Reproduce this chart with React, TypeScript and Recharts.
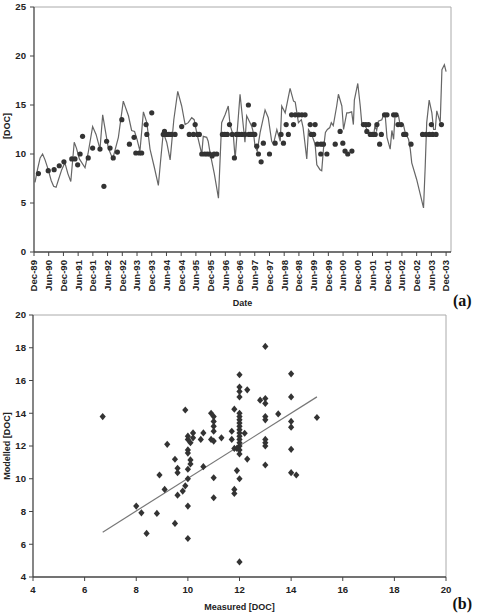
import { ComposedChart, Line, Scatter, ScatterChart, XAxis, YAxis, ReferenceLine } from 'recharts';

// time axis: months since Dec-89
const dateTicks = [0, 6, 12, 18, 24, 30, 36, 42, 48, 54, 60, 66, 72, 78, 84, 90, 96, 102, 108, 114, 120, 126, 132, 138, 144, 150, 156, 162, 168];
const dateLabels = ['Dec-89', 'Jun-90', 'Dec-90', 'Jun-91', 'Dec-91', 'Jun-92', 'Dec-92', 'Jun-93', 'Dec-93', 'Jun-94', 'Dec-94', 'Jun-95', 'Dec-95', 'Jun-96', 'Dec-96', 'Jun-97', 'Dec-97', 'Jun-98', 'Dec-98', 'Jun-99', 'Dec-99', 'Jun-00', 'Dec-00', 'Jun-01', 'Dec-01', 'Jun-02', 'Dec-02', 'Jun-03', 'Dec-03'];
const docTicks = [0, 5, 10, 15, 20, 25];
const scatterTicks = [4, 6, 8, 10, 12, 14, 16, 18, 20];

// modelled DOC [month, value]
const modelled: number[][] = [
  [0.4, 7.1], [1.5, 8.5], [2.5, 9.6], [3.5, 10.0], [4.5, 9.4], [5.8, 8.4], [7, 7.3], [8, 6.7], [9, 6.6], [10, 7.4],
  [11.3, 8.4], [12.6, 9.1], [13.8, 8.0], [15, 7.2], [16.4, 11.2], [17.3, 10.6], [18.5, 9.5], [20.8, 8.6], [22, 10.0], [23.9, 12.8],
  [25.3, 12.0], [26.9, 10.5], [28, 14.0], [30.3, 10.6], [32.1, 9.5], [34.4, 11.7], [36.4, 15.4], [38.5, 13.9], [39.8, 12.4], [41, 12.3],
  [42, 11.5], [43.2, 10.3], [44.6, 14.3], [46, 13.2], [47.3, 10.5], [49, 8.7], [50.7, 6.8], [51.5, 9.0], [52.7, 12.2], [54.1, 11.2],
  [55.5, 9.4], [57, 13.5], [58.6, 16.4], [60.2, 14.9], [61.6, 13.0], [62.9, 13.2], [64.3, 13.7], [65.3, 13.5], [66.3, 12.2], [68.4, 10.0],
  [69, 11.8], [70.4, 11.7], [71, 11.3], [71.8, 10.1], [73.5, 8.0], [75.2, 5.5], [76.5, 13.2], [77.9, 14.0], [79.2, 14.9], [79.9, 13.0],
  [81.3, 11.8], [82, 9.5], [84, 16.1], [86, 11.2], [86.7, 13.9], [88.8, 12.8], [89.5, 12.1], [90.1, 10.8], [91, 10.3], [92.2, 12.2],
  [94.2, 14.5], [95.5, 13.7], [96.9, 11.3], [97.6, 11.0], [99, 12.5], [100.4, 11.3], [101, 14.9], [102.4, 14.2], [104.4, 16.7], [105.8, 15.4],
  [106.5, 15.3], [107.8, 13.2], [109, 13.5], [109.7, 12.7], [111.2, 9.5], [111.9, 12.5], [113.2, 12.0], [114.6, 11.0], [115.3, 8.9], [116.6, 8.4],
  [117.3, 8.3], [118, 10.5], [118.8, 12.2], [119.6, 12.5], [120.6, 12.7], [121.2, 13.2], [122, 12.9], [123.4, 14.9], [124.1, 16.1], [125.5, 14.9],
  [126.2, 12.5], [127.5, 14.2], [128.2, 14.2], [129.5, 14.3], [130.2, 13.0], [130.6, 15.5], [132, 17.2], [133, 14.9], [133.6, 13.2], [135, 12.9],
  [135.7, 12.5], [137, 12.0], [138.4, 11.8], [139, 12.9], [139.7, 12.4], [140.4, 13.35], [141.8, 13.5], [142.5, 14.0], [143.2, 13.9], [143.9, 11.7],
  [145.2, 10.5], [145.9, 12.4], [146.6, 11.5], [147.2, 14.0], [148.6, 13.9], [149.3, 12.9], [150.6, 13.0], [151.3, 12.2], [152.7, 11.5], [153.4, 10.5],
  [154, 9.1], [156, 7.4], [158.8, 4.5], [159.5, 8.8], [160.1, 13.2], [161.1, 15.5], [162.2, 14.2], [162.9, 12.5], [163.6, 12.5], [164.2, 14.4],
  [165.6, 13.2], [166.3, 18.6], [167.3, 19.1], [168, 18.4],
];

// measured DOC [month, value]
const measured: number[][] = [
  [1.8, 8.0], [5.8, 8.3], [8.2, 8.4], [10.3, 8.8], [12.2, 9.2], [15.4, 9.5], [16.7, 9.5], [17.8, 8.9], [18.8, 10.0], [19.8, 11.8],
  [22.1, 9.6], [23.9, 10.6], [26.9, 10.5], [28.5, 6.7], [29.6, 11.3], [31, 10.6], [32.3, 9.6], [34, 10.2], [35.8, 13.5], [38.9, 11.0],
  [40.8, 11.7], [41.5, 10.1], [42.9, 10.1], [43.9, 10.1], [45.7, 13.0], [46, 12.0], [48, 14.2], [52.7, 12.0], [53.2, 12.3], [54, 12.0],
  [55, 12.0], [56, 12.0], [57.5, 12.0], [60.2, 12.8], [63.3, 12.0], [65, 12.0], [65.7, 13.0], [66.6, 12.0], [67.4, 12.0], [68.4, 10.0],
  [69.6, 10.0], [70.6, 10.0], [71.6, 10.0], [72.6, 9.8], [73.4, 10.0], [74.5, 10.0], [76.8, 12.0], [77.8, 12.0], [78.8, 12.0], [79.7, 13.0],
  [80.8, 12.0], [81.7, 9.6], [82.5, 12.0], [83.5, 12.0], [84.7, 12.0], [86, 12.0], [87.4, 15.0], [87.6, 12.0], [88.4, 12.0], [89.2, 12.0],
  [89.7, 13.0], [90, 12.0], [90.8, 10.8], [91.5, 10.0], [92.6, 9.2], [93.5, 11.1], [96, 10.0], [98.3, 11.1], [100.7, 12.0], [101.7, 11.1],
  [102.8, 13.0], [103.7, 12.0], [105, 14.0], [105.8, 13.0], [106.5, 14.0], [107.9, 14.0], [109.2, 14.0], [110.5, 14.0], [112.6, 13.0], [113, 12.0],
  [114, 12.0], [114.6, 13.0], [115.5, 11.0], [116.9, 10.0], [117, 11.0], [118, 11.0], [119.4, 10.0], [122.8, 11.0], [124.8, 12.3], [125.9, 11.1],
  [126.8, 10.3], [127.9, 10.0], [129.6, 10.3], [134.3, 13.0], [135.3, 13.0], [135.7, 12.3], [136.4, 13.0], [137.1, 12.0], [138, 12.0], [139.1, 12.0],
  [139.8, 13.0], [140.9, 11.0], [141.6, 12.0], [142.9, 14.0], [143.9, 14.0], [146.6, 14.0], [147.6, 14.0], [148.4, 13.0], [149.7, 13.0], [150.7, 12.0],
  [151.6, 12.0], [153.7, 11.0], [158.4, 12.0], [159.8, 12.0], [161.2, 12.0], [162, 13.0], [162.5, 12.0], [163.9, 12.0], [166.1, 13.0],
];

// measured vs modelled [measured, modelled]
const pairs: number[][] = [
  [6.7, 13.8], [8.0, 8.33], [8.2, 7.92], [8.4, 6.66], [8.8, 7.88], [8.9, 10.23], [9.1, 9.35], [9.2, 12.1], [9.5, 11.19], [9.5, 7.27],
  [9.6, 10.64], [9.6, 10.37], [9.6, 9.0], [9.8, 9.25], [9.9, 9.57], [9.9, 14.2], [10.0, 12.6], [10.0, 12.4], [10.0, 11.76], [10.0, 11.57],
  [10.0, 10.58], [10.0, 10.0], [10.0, 8.33], [10.0, 6.35], [10.1, 12.2], [10.1, 11.15], [10.1, 10.9], [10.2, 12.8], [10.2, 12.5], [10.5, 12.4],
  [10.6, 12.8], [10.6, 10.74], [10.9, 14.0], [11.0, 13.8], [11.0, 13.5], [11.0, 13.2], [11.0, 12.9], [10.9, 12.4], [11.0, 12.3], [11.0, 10.06],
  [11.0, 8.84], [11.3, 12.5], [11.7, 12.9], [11.8, 14.25], [11.7, 12.4], [11.8, 11.85], [11.9, 11.85], [11.8, 9.35], [11.8, 9.1], [11.9, 10.5],
  [12.0, 10.0], [12.0, 4.92], [12.0, 16.35], [12.0, 15.6], [12.0, 15.33], [12.0, 15.0], [12.0, 14.0], [12.0, 13.8], [12.0, 13.6], [12.0, 13.4],
  [12.0, 13.2], [12.0, 13.0], [12.0, 12.8], [12.0, 12.6], [12.0, 12.4], [12.0, 12.2], [12.0, 12.0], [12.0, 11.76], [12.0, 11.51], [12.2, 12.78],
  [12.3, 15.43], [12.3, 11.2], [12.8, 14.8], [13.0, 18.08], [13.0, 14.9], [13.0, 14.6], [13.0, 13.8], [13.0, 13.6], [13.0, 12.4], [13.0, 12.2],
  [13.0, 12.0], [13.0, 10.84], [13.5, 13.96], [14.0, 16.41], [14.0, 15.0], [14.0, 13.5], [14.0, 13.15], [14.0, 11.8], [14.0, 10.37], [14.2, 10.23],
  [15.0, 13.74],
];

// fitted trend line end points [measured, modelled]
const trend: number[][] = [[6.7, 6.74], [15.0, 15.0]];

const font = '"Liberation Sans", Arial, sans-serif';
const tickStyle = { fontSize: 9.6, fontWeight: 'bold', fill: '#222', fontFamily: font };
const axisLine = { stroke: '#444', strokeWidth: 1.3 };

const lineData = modelled.map(([m, v]) => ({ m, v }));
const dotData = measured.map(([m, v]) => ({ m, v }));
const pairData = pairs.map(([x, y]) => ({ x, y }));

function DateTick(props: any) {
  const { x, y, payload } = props;
  const label = dateLabels[dateTicks.indexOf(payload.value)];
  return (
    <text transform={`translate(${x},${y}) rotate(-90)`} textAnchor='end' dy='0.35em' {...tickStyle}>
      {label}
    </text>
  );
}

function Diamond(props: any) {
  const { cx, cy } = props;
  return <path d={`M${cx},${cy - 3.6}L${cx + 3.1},${cy}L${cx},${cy + 3.6}L${cx - 3.1},${cy}Z`} fill='#333' />;
}

export default function App() {
  return (
    <div style={{ position: 'absolute', left: 0, top: 0, width: 477, height: 613, background: '#fff' }}>
      <div style={{ position: 'absolute', left: 0, top: 0 }}>
        <ComposedChart width={477} height={312} margin={{ top: 7, right: 26, bottom: 4, left: 0 }}>
          <XAxis
            type='number'
            dataKey='m'
            domain={[0, 170]}
            ticks={dateTicks}
            interval={0}
            tick={<DateTick />}
            tickSize={4}
            tickMargin={4}
            height={56}
            axisLine={axisLine}
            tickLine={{ stroke: '#444' }}
          />
          <YAxis
            type='number'
            domain={[0, 25]}
            ticks={docTicks}
            width={34}
            tick={tickStyle}
            tickSize={4}
            tickMargin={4}
            axisLine={axisLine}
            tickLine={{ stroke: '#444' }}
          />
          <ReferenceLine y={25} stroke='#aaa' />
          <ReferenceLine x={170} stroke='#aaa' />
          <Line data={lineData} dataKey='v' type='linear' stroke='#666' strokeWidth={1.2} dot={false} isAnimationActive={false} />
          <Scatter data={dotData} dataKey='v' fill='#333' shape={(p: any) => <circle cx={p.cx} cy={p.cy} r={2.6} fill='#333' />} isAnimationActive={false} />
        </ComposedChart>
      </div>
      <div style={{ position: 'absolute', left: 0, top: 300 }}>
        <ScatterChart width={477} height={313} margin={{ top: 15, right: 31, bottom: 10, left: 0 }}>
          <XAxis
            type='number'
            dataKey='x'
            domain={[4, 20]}
            ticks={scatterTicks}
            interval={0}
            tick={tickStyle}
            tickSize={4}
            tickMargin={5}
            height={26}
            axisLine={axisLine}
            tickLine={{ stroke: '#444' }}
          />
          <YAxis
            type='number'
            dataKey='y'
            domain={[4, 20]}
            ticks={scatterTicks}
            width={33}
            tick={tickStyle}
            tickSize={4}
            tickMargin={3}
            axisLine={axisLine}
            tickLine={{ stroke: '#444' }}
          />
          <ReferenceLine y={20} stroke='#aaa' />
          <ReferenceLine x={20} stroke='#aaa' />
          <ReferenceLine
            segment={[{ x: trend[0][0], y: trend[0][1] }, { x: trend[1][0], y: trend[1][1] }]}
            stroke='#777'
            strokeWidth={1.2}
          />
          <Scatter data={pairData} shape={<Diamond />} isAnimationActive={false} />
        </ScatterChart>
      </div>
      <svg width={477} height={613} style={{ position: 'absolute', left: 0, top: 0, pointerEvents: 'none' }}>
        <g fontFamily={font} fontWeight='bold' fontSize={9} fill='#222'>
          <text x={9.5} y={126} textAnchor='middle' transform='rotate(-90, 9.5, 126)'>[DOC]</text>
          <text x={242.5} y={305.5} textAnchor='middle'>Date</text>
          <text x={9.5} y={446} textAnchor='middle' transform='rotate(-90, 9.5, 446)'>Modelled [DOC]</text>
          <text x={239.5} y={609.5} textAnchor='middle'>Measured [DOC]</text>
        </g>
        <g fontFamily='"Liberation Serif", "Times New Roman", serif' fontWeight='bold' fontSize={16} fill='#111'>
          <text x={453} y={305.5}>(a)</text>
          <text x={452.5} y={608.5}>(b)</text>
        </g>
      </svg>
    </div>
  );
}
